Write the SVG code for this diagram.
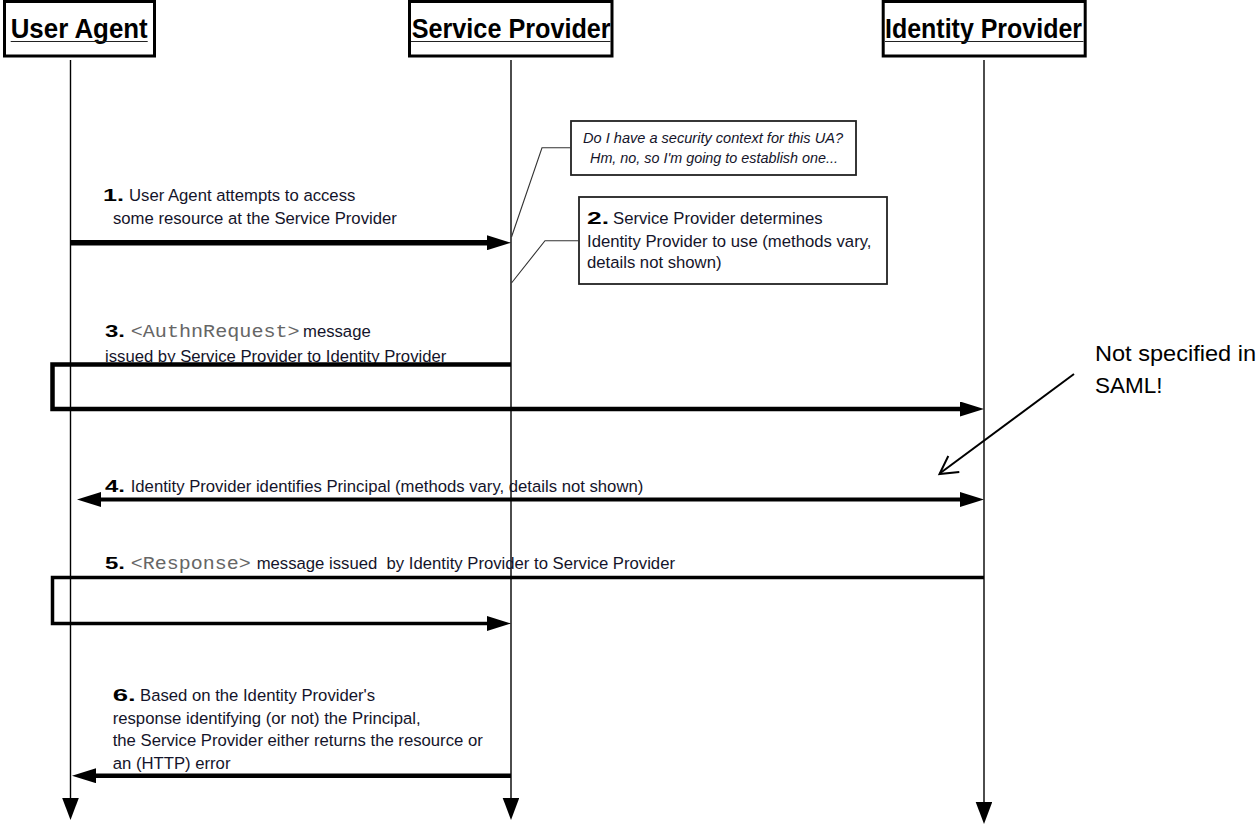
<svg xmlns="http://www.w3.org/2000/svg" width="1258" height="828" viewBox="0 0 1258 828">
  <style>
    .box { fill: #fff; stroke: #000; stroke-width: 3; }
    .title { font-family: "Liberation Sans", Arial, sans-serif; font-weight: bold; font-size: 27px; fill: #000; }
    .uline { stroke: #222; stroke-width: 1.2; }
    .life { stroke: #000; stroke-width: 1.4; fill: none; }
    .msg { stroke: #000; fill: none; stroke-linejoin: miter; }
    .lbl { font-family: "Liberation Sans", Arial, sans-serif; font-size: 16.7px; fill: #14142a; }
    .num { font-family: "Liberation Sans", Arial, sans-serif; font-weight: 900; font-size: 17px; fill: #000; }
    .code { font-family: "Liberation Mono", "Courier New", monospace; font-size: 18px; fill: #666; }
    .note { fill: #fff; stroke: #222; stroke-width: 1.8; }
    .noteText { font-family: "Liberation Sans", Arial, sans-serif; font-size: 15px; font-style: italic; fill: #14142a; }
    .lead { stroke: #333; stroke-width: 1.1; fill: none; }
    .remark { font-family: "Liberation Sans", Arial, sans-serif; font-size: 22.5px; fill: #000; }
  </style>
  <defs>
    <marker id="head" markerUnits="userSpaceOnUse" markerWidth="24" markerHeight="15" refX="4" refY="7.5" orient="auto-start-reverse">
      <path d="M0,0 L24,7.5 L0,15 z" fill="#000"/>
    </marker>
    <marker id="lifeEnd" markerUnits="userSpaceOnUse" markerWidth="22" markerHeight="17" refX="1" refY="8.3" orient="auto">
      <path d="M0,0 L22,8.3 L0,16.6 z" fill="#000"/>
    </marker>
  </defs>
  <rect width="1258" height="828" fill="#fff"/>

  <!-- participants -->
  <g id="user-agent">
    <rect class="box" x="4.5" y="1.5" width="150" height="54.5"/>
    <text class="title" x="10.7" y="38" textLength="137" lengthAdjust="spacingAndGlyphs">User Agent</text>
    <line class="uline" x1="10.7" y1="41.5" x2="147.7" y2="41.5"/>
    <line class="life" x1="70.5" y1="60" x2="70.5" y2="799" marker-end="url(#lifeEnd)"/>
  </g>
  <g id="service-provider">
    <rect class="box" x="409.5" y="1.5" width="202.5" height="54.5"/>
    <text class="title" x="411.7" y="38" textLength="199" lengthAdjust="spacingAndGlyphs">Service Provider</text>
    <line class="uline" x1="411" y1="41.5" x2="610.5" y2="41.5"/>
    <line class="life" x1="511" y1="60" x2="511" y2="799" marker-end="url(#lifeEnd)"/>
  </g>
  <g id="identity-provider">
    <rect class="box" x="883.2" y="1.5" width="202" height="54.5"/>
    <text class="title" x="885" y="38" textLength="197" lengthAdjust="spacingAndGlyphs">Identity Provider</text>
    <line class="uline" x1="885" y1="41.5" x2="1083.5" y2="41.5"/>
    <line class="life" x1="984" y1="60" x2="984" y2="803" marker-end="url(#lifeEnd)"/>
  </g>

  <!-- notes attached to the Service Provider lifeline -->
  <g id="note-context">
    <rect class="note" x="571" y="121" width="285" height="54"/>
    <text class="noteText" x="713" y="143.3" text-anchor="middle" textLength="260" lengthAdjust="spacingAndGlyphs">Do I have a security context for this UA?</text>
    <text class="noteText" x="714" y="163.3" text-anchor="middle" textLength="248" lengthAdjust="spacingAndGlyphs">Hm, no, so I'm going to establish one...</text>
  </g>
  <g id="note-step2">
    <rect class="note" x="579" y="197" width="308" height="87"/>
    <text class="num" x="587" y="224" textLength="22" lengthAdjust="spacingAndGlyphs">2.</text>
    <text class="lbl" x="613" y="224">Service Provider determines</text>
    <text class="lbl" x="587" y="246.7">Identity Provider to use (methods vary,</text>
    <text class="lbl" x="587" y="268.3">details not shown)</text>
  </g>

  <!-- message labels -->
  <g id="labels">
    <text class="num" x="103" y="200.7" textLength="21" lengthAdjust="spacingAndGlyphs">1.</text>
    <text class="lbl" x="129" y="200.7">User Agent attempts to access</text>
    <text class="lbl" x="113" y="224">some resource at the Service Provider</text>

    <text class="num" x="105" y="337" textLength="20" lengthAdjust="spacingAndGlyphs">3.</text>
    <text class="code" x="130.7" y="337" textLength="169" lengthAdjust="spacingAndGlyphs">&lt;AuthnRequest&gt;</text>
    <text class="lbl" x="303" y="337">message</text>
    <text class="lbl" x="105" y="362">issued by Service Provider to Identity Provider</text>

    <text class="num" x="105" y="492" textLength="20" lengthAdjust="spacingAndGlyphs">4.</text>
    <text class="lbl" x="130.7" y="492">Identity Provider identifies Principal (methods vary, details not shown)</text>

    <text class="num" x="105" y="569" textLength="20" lengthAdjust="spacingAndGlyphs">5.</text>
    <text class="code" x="130.7" y="569" textLength="120" lengthAdjust="spacingAndGlyphs">&lt;Response&gt;</text>
    <text class="lbl" x="256.7" y="569" xml:space="preserve">message issued  by Identity Provider to Service Provider</text>

    <text class="num" x="112.7" y="701" textLength="23" lengthAdjust="spacingAndGlyphs">6.</text>
    <text class="lbl" x="140" y="701">Based on the Identity Provider's</text>
    <text class="lbl" x="112.7" y="723.5">response identifying (or not) the Principal,</text>
    <text class="lbl" x="112.7" y="746">the Service Provider either returns the resource or</text>
    <text class="lbl" x="112.7" y="768.5">an (HTTP) error</text>

    <text class="remark" x="1095" y="360.7" textLength="161" lengthAdjust="spacingAndGlyphs">Not specified in</text>
    <text class="remark" x="1095" y="392.7">SAML!</text>
  </g>

  <!-- connectors -->
  <g id="connectors">
    <!-- note leaders -->
    <polyline class="lead" points="571,147.7 542,147.7 511.5,237"/>
    <polyline class="lead" points="579,240.7 545,240.7 511.5,283"/>

    <!-- 1: UA to SP -->
    <path class="msg" style="stroke-width:5.5" d="M70.5,242.7 H491" marker-end="url(#head)"/>
    <!-- 3: SP to IdP routed through UA -->
    <path class="msg" style="stroke-width:4.5" d="M511,364.5 H52.5 V409 H964" marker-end="url(#head)"/>
    <!-- 4: UA and IdP both ways -->
    <path class="msg" style="stroke-width:4" d="M97,499.5 H964" marker-start="url(#head)" marker-end="url(#head)"/>
    <!-- 5: IdP to SP routed through UA -->
    <path class="msg" style="stroke-width:3.5" d="M984,577.5 H52.5 V623.5 H491" marker-end="url(#head)"/>
    <!-- 6: SP back to UA -->
    <path class="msg" style="stroke-width:4.5" d="M511,775.7 H92" marker-end="url(#head)"/>

    <!-- remark pointer -->
    <line x1="1074" y1="374" x2="940" y2="473.3" stroke="#000" stroke-width="2"/>
    <polyline points="959.3,472 939.5,474 948.3,456" fill="none" stroke="#000" stroke-width="2" stroke-linejoin="miter"/>
  </g>
</svg>
